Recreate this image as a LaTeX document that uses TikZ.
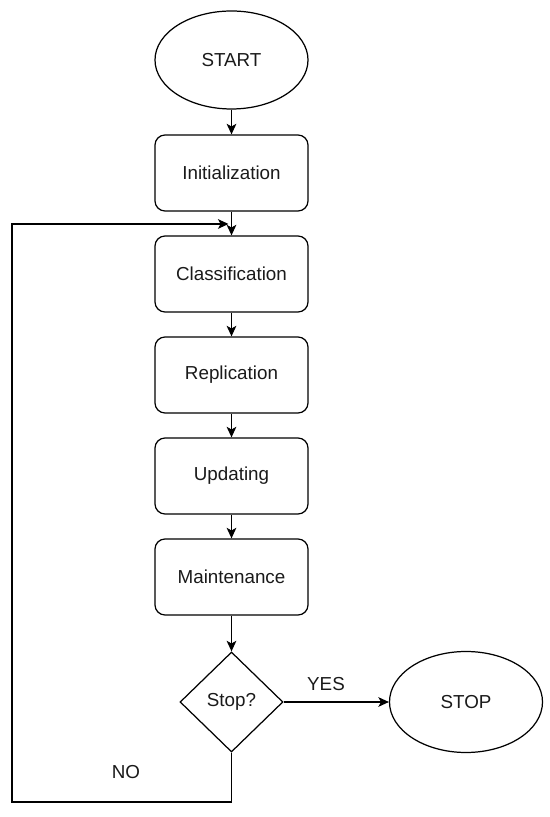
\documentclass[tikz,border=0pt]{standalone}
\usepackage{fontspec}
\setmainfont{Liberation Sans}
\usetikzlibrary{shapes.geometric, arrows.meta, positioning}
\definecolor{FlowBlack}{HTML}{000000}
\definecolor{FlowText}{HTML}{1A1A1A}
\tikzset{
    % Node styles
    terminal/.style={
        ellipse,
        draw=FlowBlack,
        line width=0.7pt,
        minimum width=3.06cm,
        minimum height=1.96cm,
        text=FlowText,
        font=\fontsize{10.7}{12.8}\selectfont
    },
    stepbox/.style={
        rectangle,
        rounded corners=0.2cm,
        draw=FlowBlack,
        line width=0.7pt,
        minimum width=3.06cm,
        minimum height=1.52cm,
        text=FlowText,
        font=\fontsize{10.7}{12.8}\selectfont
    },
    checkbox/.style={
        diamond,
        draw=FlowBlack,
        line width=0.7pt,
        inner sep=0pt,
        minimum width=2.06cm,
        minimum height=2.0cm,
        text=FlowText,
        font=\fontsize{10.7}{12.8}\selectfont
    },
    % Arrow styles
    myarrow/.style={
        -{Stealth[length=6pt,width=5.5pt,inset=1.5pt]},
        line width=0.7pt,
        FlowBlack
    },
    answer/.style={
        text=FlowText,
        font=\fontsize{10.7}{12.8}\selectfont
    }
}
\begin{document}
\begin{tikzpicture}
    \useasboundingbox (0,0) rectangle (11,16.34);

    \node[terminal] (start) at (4.63,15.14) {START};
    \node[stepbox] (init) at (4.63,12.88) {Initialization};
    \node[stepbox] (class) at (4.63,10.86) {Classification};
    \node[stepbox] (repl) at (4.63,8.84) {Replication};
    \node[stepbox] (upd) at (4.63,6.82) {Updating};
    \node[stepbox] (maint) at (4.63,4.80) {Maintenance};
    \node[checkbox] (check) at (4.63,2.30) {Stop?};
    \node[terminal, minimum height=2.02cm] (stop) at (9.32,2.30) {STOP};

    % loop back corners
    \coordinate (nocorner) at (0.24,0.30);
    \coordinate (loopend) at (4.57,11.86);

    \draw[myarrow] (start) -- (init);
    \draw[myarrow] (init) -- (class);
    \draw[myarrow] (class) -- (repl);
    \draw[myarrow] (repl) -- (upd);
    \draw[myarrow] (upd) -- (maint);
    \draw[myarrow] (maint) -- (check);
    \draw[myarrow] (check) -- (stop);
    \draw[myarrow] (check.south) |- (nocorner) |- (loopend);

    \node[answer] (yes) at (6.52,2.66) {YES};
    \node[answer] (no) at (2.52,0.90) {NO};
\end{tikzpicture}
\end{document}
